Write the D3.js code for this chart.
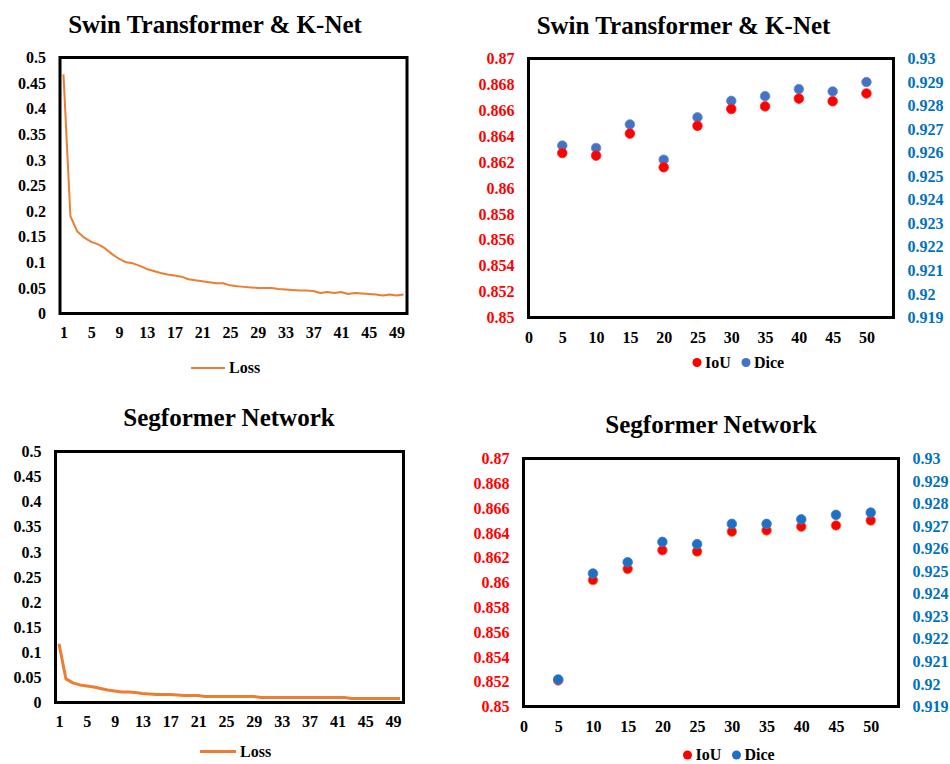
<!DOCTYPE html>
<html>
<head>
<meta charset="utf-8">
<script src="https://cdn.jsdelivr.net/npm/d3@7/dist/d3.min.js"></script>
<style>
  body { margin: 0; background: #fff; }
  svg text { font-family: "Liberation Serif", "Times New Roman", serif; font-weight: bold; }
</style>
</head>
<body>
<svg id="chart" width="950" height="764"></svg>
<script>
// ── data ─────────────────────────────────────────────────────
const epochs = d3.range(1, 51);
const epochTicks = [1, 5, 9, 13, 17, 21, 25, 29, 33, 37, 41, 45, 49];

const swinLoss = [
  0.467, 0.190, 0.160, 0.148, 0.140, 0.135, 0.127, 0.116, 0.107, 0.100,
  0.098, 0.093, 0.087, 0.083, 0.079, 0.076, 0.074, 0.072, 0.067, 0.065,
  0.063, 0.061, 0.059, 0.059, 0.055, 0.053, 0.052, 0.051, 0.050, 0.050,
  0.050, 0.048, 0.047, 0.046, 0.045, 0.045, 0.044, 0.040, 0.042, 0.040,
  0.042, 0.038, 0.040, 0.039, 0.038, 0.037, 0.035, 0.037, 0.035, 0.037
];
const segLoss = [
  0.117, 0.047, 0.039, 0.035, 0.033, 0.031, 0.028, 0.025, 0.023, 0.021,
  0.021, 0.020, 0.018, 0.017, 0.016, 0.016, 0.016, 0.015, 0.014, 0.014,
  0.014, 0.012, 0.012, 0.012, 0.012, 0.012, 0.012, 0.012, 0.012, 0.010,
  0.010, 0.010, 0.010, 0.010, 0.010, 0.010, 0.010, 0.010, 0.010, 0.010,
  0.010, 0.010, 0.008, 0.008, 0.008, 0.008, 0.008, 0.008, 0.008, 0.008
];
const lossTicks = [0, 0.05, 0.1, 0.15, 0.2, 0.25, 0.3, 0.35, 0.4, 0.45, 0.5];

const checkpoints = [5, 10, 15, 20, 25, 30, 35, 40, 45, 50];
const checkpointTicks = [0, 5, 10, 15, 20, 25, 30, 35, 40, 45, 50];
const swinIoU  = [0.8627, 0.8625, 0.8642, 0.8616, 0.8648, 0.8661, 0.8663, 0.8669, 0.8667, 0.8673];
const swinDice = [0.9263, 0.9262, 0.9272, 0.9257, 0.9275, 0.9282, 0.9284, 0.9287, 0.9286, 0.9290];
const segIoU   = [0.8521, 0.8602, 0.8611, 0.8626, 0.8625, 0.8641, 0.8642, 0.8645, 0.8646, 0.8650];
const segDice  = [0.9202, 0.9249, 0.9254, 0.9263, 0.9262, 0.9271, 0.9271, 0.9273, 0.9275, 0.9276];
const iouTicks  = [0.85, 0.852, 0.854, 0.856, 0.858, 0.86, 0.862, 0.864, 0.866, 0.868, 0.87];
const diceTicks = [0.919, 0.92, 0.921, 0.922, 0.923, 0.924, 0.925, 0.926, 0.927, 0.928, 0.929, 0.93];

// ── styling ──────────────────────────────────────────────────
const ORANGE = '#ED7D31';
const RED = '#FF0000';
const AXIS_BLUE = '#0070C0';
const FONT = 16;
const fmt = (d) => String(+d.toFixed(4));

const svg = d3.select('#chart');

function styleAxis(sel, color) {
  sel.attr('font-size', FONT).attr('font-family', null);
  sel.select('.domain').remove();
  sel.selectAll('text').attr('fill', color || '#000');
}

function title(text, x, y) {
  svg.append('text').attr('x', x).attr('y', y)
    .attr('text-anchor', 'middle').attr('font-size', 25).text(text);
}

function frame(f) {
  svg.append('rect')
    .attr('x', f.x0).attr('y', f.y0)
    .attr('width', f.x1 - f.x0).attr('height', f.y1 - f.y0)
    .attr('fill', 'none').attr('stroke', '#000').attr('stroke-width', 3);
}

// loss curve: category axis (epochs centred in their bands)
function lossChart(cfg) {
  const f = cfg.frame;
  const x = d3.scalePoint().domain(epochs).range([f.x0, f.x1]).padding(0.5);
  const y = d3.scaleLinear().domain([0, 0.5]).range([f.y1, f.y0]);

  svg.append('g').attr('transform', `translate(${f.x0},0)`)
    .call(d3.axisLeft(y).tickValues(lossTicks).tickSize(0).tickPadding(14).tickFormat(fmt))
    .call(styleAxis);
  svg.append('g').attr('transform', `translate(0,${f.y1})`)
    .call(d3.axisBottom(x).tickValues(epochTicks).tickSize(0).tickPadding(13))
    .call(styleAxis);

  svg.append('path')
    .datum(cfg.values)
    .attr('fill', 'none').attr('stroke', ORANGE)
    .attr('stroke-width', cfg.lineWidth).attr('stroke-linejoin', 'round')
    .attr('d', d3.line().x((d, i) => x(epochs[i])).y((d) => y(d)));

  frame(f);
  title(cfg.title, cfg.titleAt[0], cfg.titleAt[1]);

  const [lx, ly] = cfg.legendAt;
  svg.append('line').attr('x1', lx).attr('x2', lx + cfg.legendLen).attr('y1', ly).attr('y2', ly)
    .attr('stroke', ORANGE).attr('stroke-width', cfg.lineWidth);
  svg.append('text').attr('x', lx + cfg.legendLen + 4).attr('y', ly).attr('dy', '0.33em')
    .attr('font-size', FONT).text('Loss');
}

// IoU (left axis) vs Dice (right axis) scatter
function metricChart(cfg) {
  const f = cfg.frame;
  const x = d3.scaleLinear().domain([0, 54]).range([f.x0, f.x1]);
  const yL = d3.scaleLinear().domain([0.85, 0.87]).range([f.y1, f.y0]);
  const yR = d3.scaleLinear().domain([0.919, 0.93]).range([f.y1, f.y0]);

  svg.append('g').attr('transform', `translate(${f.x0},0)`)
    .call(d3.axisLeft(yL).tickValues(iouTicks).tickSize(0).tickPadding(14).tickFormat(fmt))
    .call((g) => styleAxis(g, RED));
  svg.append('g').attr('transform', `translate(${f.x1},0)`)
    .call(d3.axisRight(yR).tickValues(diceTicks).tickSize(0).tickPadding(14).tickFormat(fmt))
    .call((g) => styleAxis(g, AXIS_BLUE));
  svg.append('g').attr('transform', `translate(0,${f.y1})`)
    .call(d3.axisBottom(x).tickValues(checkpointTicks).tickSize(0).tickPadding(14).tickFormat(fmt))
    .call(styleAxis);

  const series = [
    { key: 'iou', vals: cfg.iou, y: yL, color: RED, stroke: cfg.iouStroke },
    { key: 'dice', vals: cfg.dice, y: yR, color: cfg.diceColor, stroke: cfg.diceStroke },
  ];
  // whichever series sits on top differs between the two panels
  const order = cfg.diceOnTop ? series : series.slice().reverse();
  for (const s of order) {
    svg.append('g').selectAll('circle').data(s.vals).join('circle')
      .attr('cx', (d, i) => x(checkpoints[i]))
      .attr('cy', (d) => s.y(d))
      .attr('r', 4.8)
      .attr('fill', s.color).attr('stroke', s.stroke).attr('stroke-width', 0.8);
  }

  frame(f);
  title(cfg.title, cfg.titleAt[0], cfg.titleAt[1]);

  const [lx, ly] = cfg.legendAt;
  svg.append('circle').attr('cx', lx).attr('cy', ly).attr('r', 4.5).attr('fill', RED);
  svg.append('text').attr('x', lx + 8).attr('y', ly).attr('dy', '0.33em')
    .attr('font-size', FONT).text('IoU');
  svg.append('circle').attr('cx', lx + 49).attr('cy', ly).attr('r', 4.5).attr('fill', cfg.diceColor);
  svg.append('text').attr('x', lx + 57).attr('y', ly).attr('dy', '0.33em')
    .attr('font-size', FONT).text('Dice');
}

lossChart({
  frame: { x0: 60, x1: 407, y0: 57.5, y1: 313.5 },
  values: swinLoss, lineWidth: 2,
  title: 'Swin Transformer & K-Net', titleAt: [215, 33],
  legendAt: [191, 368], legendLen: 34,
});

lossChart({
  frame: { x0: 55.5, x1: 403.5, y0: 451.5, y1: 702.5 },
  values: segLoss, lineWidth: 3,
  title: 'Segformer Network', titleAt: [229, 425.5],
  legendAt: [200, 751.5], legendLen: 36,
});

metricChart({
  frame: { x0: 528.5, x1: 893.5, y0: 58.5, y1: 317.5 },
  iou: swinIoU, dice: swinDice,
  diceColor: '#4472C4', diceStroke: '#6A8FD0', iouStroke: '#FF2020', diceOnTop: false,
  title: 'Swin Transformer & K-Net', titleAt: [683.5, 34],
  legendAt: [697, 362.5],
});

metricChart({
  frame: { x0: 523.5, x1: 898.5, y0: 458.5, y1: 706.5 },
  iou: segIoU, dice: segDice,
  diceColor: '#1F6FC5', diceStroke: '#3A80CC', iouStroke: '#F26B2A', diceOnTop: true,
  title: 'Segformer Network', titleAt: [711, 433],
  legendAt: [687.5, 755],
});
</script>
</body>
</html>
